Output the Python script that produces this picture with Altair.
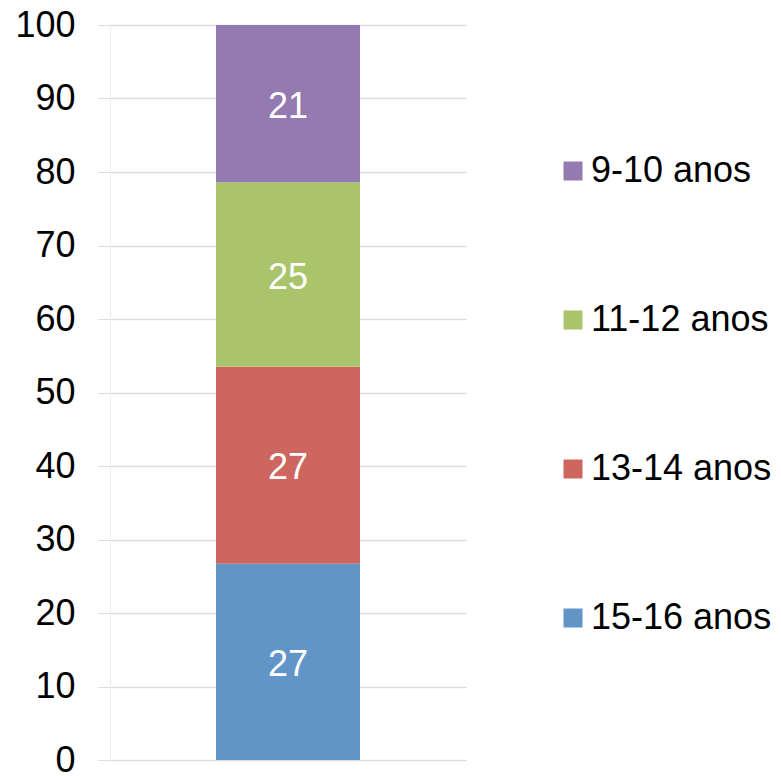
import altair as alt
import pandas as pd

groups = ["15-16 anos", "13-14 anos", "11-12 anos", "9-10 anos"]
values = [26.7, 26.8, 25.1, 21.4]
labels = ["27", "27", "25", "21"]
stack_rank = [0, 1, 2, 3]
legend_order = ["9-10 anos", "11-12 anos", "13-14 anos", "15-16 anos"]
colors = ["#937AB0", "#AAC46B", "#CD665F", "#6195C8"]

df = pd.DataFrame({
    "cat": ["A"] * len(groups),
    "grupo": groups,
    "valor": values,
    "rotulo": labels,
    "rank": stack_rank,
})

FONT = "Liberation Sans"

base = alt.Chart(df).transform_stack(
    stack="valor", groupby=["cat"], as_=["y0", "y1"], sort=[alt.SortField("rank", order="ascending")]
).transform_calculate(mid="(datum.y0 + datum.y1) / 2")

xenc = alt.X("cat:N", axis=None, scale=alt.Scale(paddingInner=0, paddingOuter=0))
yscale = alt.Scale(domain=[0, 100], nice=False)

bars = base.mark_bar(size=144).encode(
    x=xenc,
    y=alt.Y("y0:Q", scale=yscale,
            axis=alt.Axis(values=list(range(0, 101, 10)), title=None, labelFontSize=36,
                          labelFont=FONT, labelColor="#000000", labelPadding=23,
                          tickSize=12, tickColor="#DDDDDD", gridColor="#DDDDDD",
                          domainColor="#EEEEEE", grid=True)),
    y2="y1:Q",
    color=alt.Color("grupo:N", scale=alt.Scale(domain=legend_order, range=colors),
                    legend=alt.Legend(title=None, orient="none", legendX=445, legendY=128,
                                      padding=0,
                                      symbolType="square", symbolSize=361, symbolStrokeWidth=0,
                                      symbolOpacity=1,
                                      labelFontSize=36, labelFont=FONT, labelColor="#000000",
                                      rowPadding=113, labelOffset=0, labelLimit=300)),
)

text = base.mark_text(color="white", fontSize=36, font=FONT, baseline="middle", dy=3).encode(
    x=xenc,
    y=alt.Y("mid:Q", scale=yscale),
    text="rotulo:N",
)

chart = alt.layer(bars, text).properties(
    width=356, height=735,
    autosize=alt.AutoSizeParams(type="none"),
    padding={"left": 102, "top": 17, "right": 307, "bottom": 14},
).configure_view(stroke=None).configure_axis(gridWidth=1.5)

chart.save("out.html", embed_options={"renderer": "svg", "actions": False})
